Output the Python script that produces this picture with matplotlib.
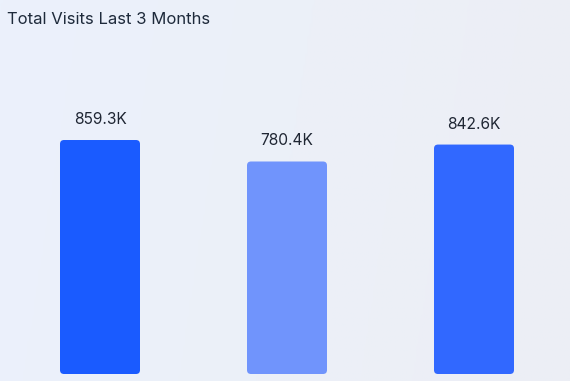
import numpy as np
import matplotlib
matplotlib.use('Agg')
import matplotlib.pyplot as plt
from matplotlib.patches import FancyBboxPatch
from matplotlib.colors import LinearSegmentedColormap

# data
months = ['Month 1', 'Month 2', 'Month 3']
visits_k = [859.3, 780.4, 842.6]
labels = ['859.3K', '780.4K', '842.6K']
colors = ['#1a5bff', '#7094fc', '#3168ff']

plt.rcParams['font.family'] = ['Inter', 'DejaVu Sans']

fig = plt.figure(figsize=(5.7, 3.81), dpi=100)
ax = fig.add_axes([0, 0, 1, 1])

# pixel geometry: centres 187px apart, first at x=100, zero line at y=374
px_x = 187.0
px_y = 0.2723
ax.set_xlim(-100 / px_x, 470 / px_x)
ax.set_ylim(-7 / px_y, 374 / px_y)
ax.axis('off')

# soft background gradient
bg = LinearSegmentedColormap.from_list('bg', ['#ebf1fc', '#ecf0f8', '#eceef5'])
grad = np.linspace(0, 1, 256).reshape(1, -1)
grad = grad + np.linspace(0, 0.1, 64).reshape(-1, 1)
ax.imshow(grad, cmap=bg, aspect='auto', extent=[*ax.get_xlim(), *ax.get_ylim()],
          origin='upper', zorder=0, vmin=0, vmax=1.1)

width = 80 / px_x
r = 4 / px_x
for i, v in enumerate(visits_k):
    box = FancyBboxPatch((i - width / 2, 0), width, v,
                         boxstyle='round,pad=0,rounding_size=%f' % r,
                         mutation_aspect=px_x / px_y,
                         fc=colors[i], ec='none', zorder=2)
    ax.add_patch(box)
    ax.text(i, v + 16 / px_y, labels[i], ha='center', va='baseline',
            fontsize=11.2, color='#1f2633', zorder=3)

fig.text(7 / 570, 1 - 24.5 / 381, 'Total Visits Last 3 Months', ha='left', va='baseline',
         fontsize=12, color='#1e2a3b')

fig.savefig('out.png', dpi=100)
